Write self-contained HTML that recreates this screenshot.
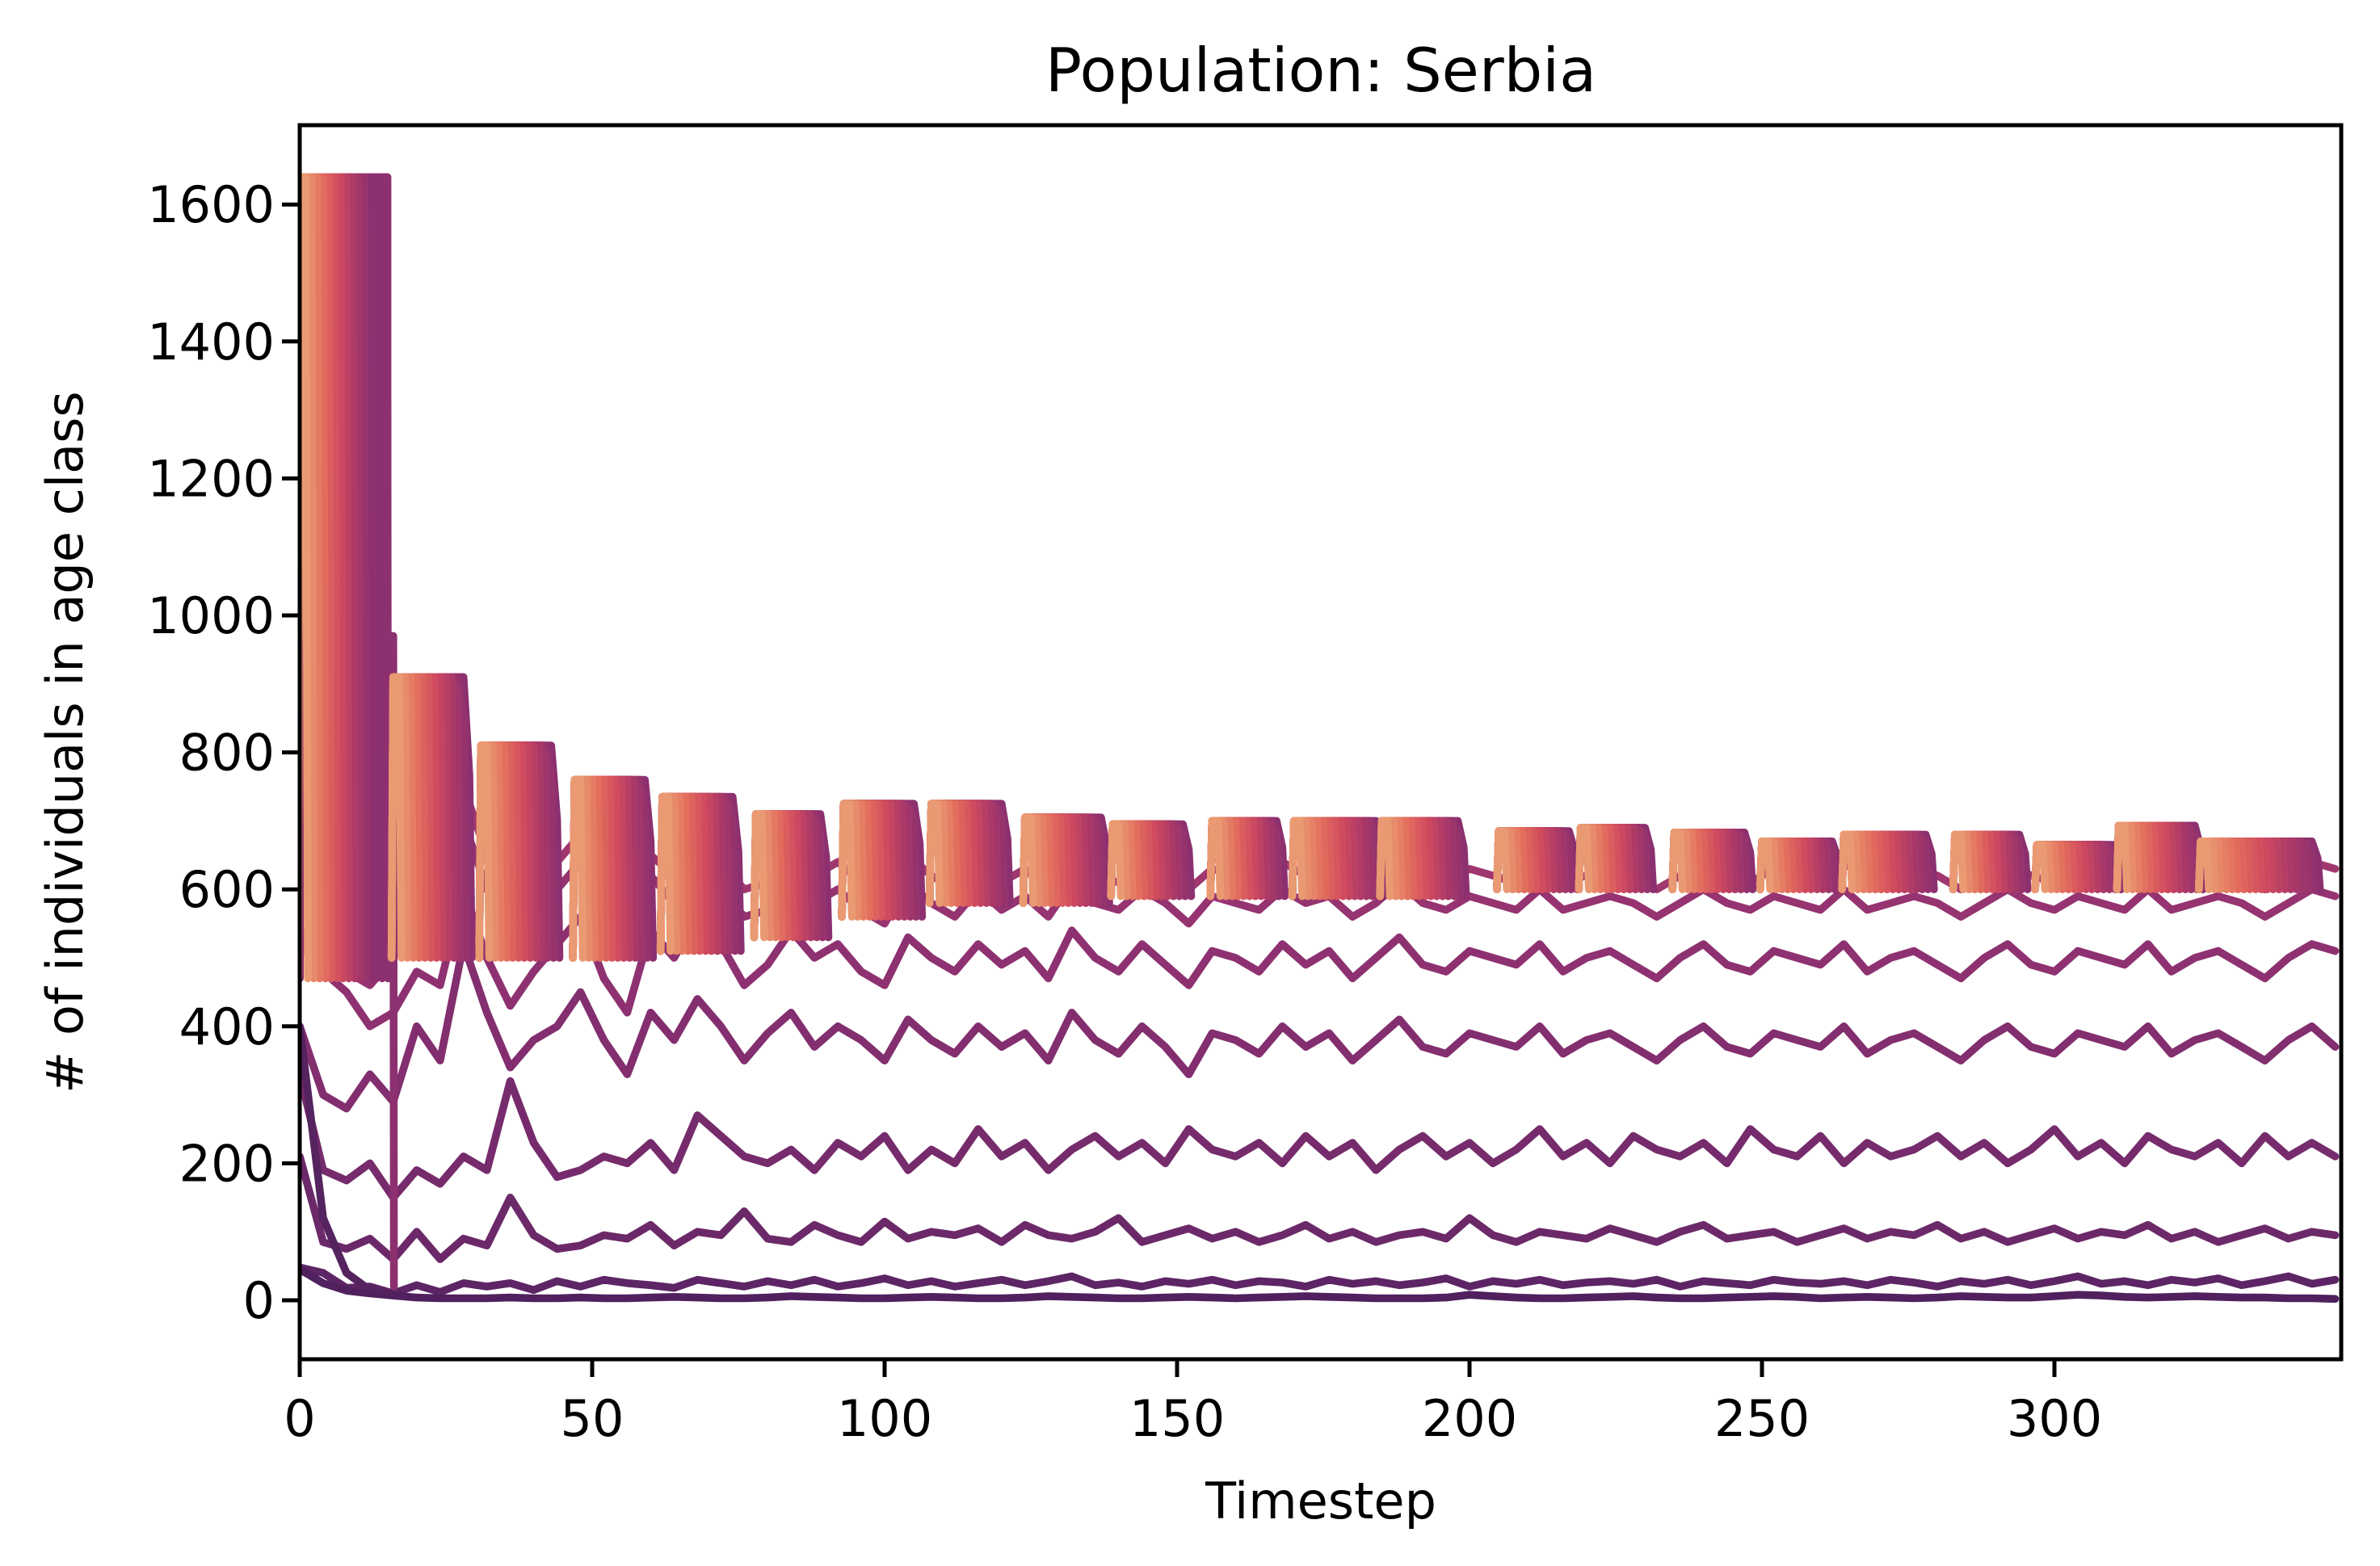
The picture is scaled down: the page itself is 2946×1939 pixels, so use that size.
<!DOCTYPE html>
<html><head><meta charset="utf-8"><style>
html,body{margin:0;padding:0;background:#fff;}
svg{display:block;}
text{font-family:"DejaVu Sans","Liberation Sans",sans-serif;fill:#000;}
</style></head><body>
<svg id="chart" width="2946" height="1939" viewBox="0 0 2946 1939" xmlns="http://www.w3.org/2000/svg">
<defs><clipPath id="plotclip"><rect x="371" y="155" width="2527" height="1528"/></clipPath></defs>
<rect x="0" y="0" width="2946" height="1939" fill="#fff"/>
<g id="data" clip-path="url(#plotclip)"></g>
<g id="axes"></g>
<text x="1635" y="113" font-size="75" text-anchor="middle">Population: Serbia</text>
<text x="1635" y="1880" font-size="62" text-anchor="middle">Timestep</text>
<text transform="translate(102,919) rotate(-90)" font-size="62" text-anchor="middle"># of individuals in age class</text>
</svg>
<script>
// ---- data ----
const STEP = 4;
const xTicks = [0, 50, 100, 150, 200, 250, 300];
const yTicks = [0, 200, 400, 600, 800, 1000, 1200, 1400, 1600];
const blockStart = [0,16,31,47,62,78,93,108,124,139,156,170,185,205,219,235,250,264,283,297,311,325];
const blockWidth = [12,13,13,13,13,12,13,13,14,13,12,15,14,13,12,13,13,15,12,14,14,20];
const blockTop = [1640,910,810,760,735,710,725,725,705,695,700,700,700,685,690,683,670,680,680,665,693,670];
const blockBottom = [470,500,500,500,510,530,560,580,580,590,590,590,590,600,600,600,600,600,600,600,600,600];
const firstBlockTail = [1600,1520,1310,970];
const decayLine = [400,120,40,15,8];
const lineA = [45,25,14,10,7,4,3,3,3,4,3,3,4,3,3,4,5,4,3,3,4,6,5,4,3,3,4,5,4,3,3,4,6,5,4,3,3,4,5,4,3,4,5,6,5,4,3,3,3,4,8,6,4,3,3,4,5,6,4,3,3,4,5,6,5,3,4,5,4,3,4,6,5,4,4,6,8,7,5,4,5,6,5,4,4,3,3,2];
const lineB = [48,40,18,20,10,22,12,25,20,25,15,28,20,30,25,22,18,30,25,20,28,22,30,20,25,32,22,28,20,25,30,22,28,35,22,26,20,28,24,30,22,28,26,20,30,24,28,22,26,32,20,28,24,30,22,26,28,24,30,20,28,25,22,30,26,24,28,22,30,26,20,28,24,30,22,28,35,24,28,22,30,26,32,22,28,35,24,30];
const lineC = [210,85,75,90,60,100,60,90,80,150,95,75,80,95,90,110,80,100,95,130,90,85,110,95,85,115,90,100,95,105,85,110,95,90,100,120,85,95,105,90,100,85,95,110,90,100,85,95,100,90,120,95,85,100,95,90,105,95,85,100,110,90,95,100,85,95,105,90,100,95,110,90,100,85,95,105,90,100,95,110,90,100,85,95,105,90,100,95];
const lineD = [330,190,175,200,150,190,170,210,190,320,230,180,190,210,200,230,190,270,240,210,200,220,190,230,210,240,190,220,200,250,210,230,190,220,240,210,230,200,250,220,210,230,200,240,210,230,190,220,240,210,230,200,220,250,210,230,200,240,220,210,230,200,250,220,210,240,200,230,210,220,240,210,230,200,220,250,210,230,200,240,220,210,230,200,240,210,230,210];
const lineE = [400,300,280,330,290,400,350,520,420,340,380,400,450,380,330,420,380,440,400,350,390,420,370,400,380,350,410,380,360,400,370,390,350,420,380,360,400,370,330,390,380,360,400,370,390,350,380,410,370,360,390,380,370,400,360,380,390,370,350,380,400,370,360,390,380,370,400,360,380,390,370,350,380,400,370,360,390,380,370,400,360,380,390,370,350,380,400,370];
const lineF = [520,480,450,400,420,480,460,600,500,430,480,520,560,470,420,540,500,560,520,460,490,540,500,520,480,460,530,500,480,520,490,510,470,540,500,480,520,490,460,510,500,480,520,490,510,470,500,530,490,480,510,500,490,520,480,500,510,490,470,500,520,490,480,510,500,490,520,480,500,510,490,470,500,520,490,480,510,500,490,520,480,500,510,490,470,500,520,510];
const lineG = [530,500,480,460,500,560,520,700,600,540,560,600,640,560,520,620,580,640,600,560,570,610,580,600,570,550,610,580,560,600,570,590,560,610,580,570,600,580,550,590,580,570,600,580,590,560,580,610,580,570,590,580,570,600,570,580,590,580,560,580,600,580,570,590,580,570,600,570,580,590,580,560,580,600,580,570,590,580,570,600,570,580,590,580,560,580,600,590];
const lineH = [540,520,500,480,520,600,560,750,650,580,600,640,680,600,560,650,620,670,640,600,610,650,620,640,610,600,650,620,600,640,610,630,600,650,620,610,640,620,600,630,620,610,640,620,630,600,620,650,620,610,630,620,610,640,610,620,630,620,600,620,640,620,610,630,620,610,640,610,620,630,620,600,620,640,620,610,630,620,610,640,610,620,630,620,600,620,640,630];

// ---- scales ----
const X0 = 371, X1 = 2898, Y0 = 1683, Y1 = 155;
function X(t){ return X0 + t * 7.24; }
function Y(v){ return 1610 - v * 0.848; }
const NS = 'http://www.w3.org/2000/svg';
const dataG = document.getElementById('data');
const axesG = document.getElementById('axes');
const stops = [[234,154,114],[226,110,94],[209,75,95],[170,57,104],[140,48,112]];
const taper = [0.35, 0.15, 0.05];
function grad(f){
  const p = f * (stops.length - 1); const i = Math.min(Math.floor(p), stops.length - 2); const r = p - i;
  const c = stops[i].map((v, k) => Math.round(v + (stops[i+1][k] - v) * r));
  return 'rgb(' + c.join(',') + ')';
}
function poly(pts, color, name){
  const el = document.createElementNS(NS, 'polyline');
  el.setAttribute('points', pts.map(p => p[0].toFixed(1) + ',' + p[1].toFixed(1)).join(' '));
  el.setAttribute('fill', 'none');
  el.setAttribute('stroke', color);
  el.setAttribute('stroke-width', '9.6');
  el.setAttribute('stroke-linejoin', 'round');
  el.setAttribute('stroke-linecap', 'round');
  
  
  dataG.appendChild(el);
  return el;
}
function series(arr, color, name){
  poly(arr.map((v, i) => [X(i * STEP), Y(v)]), color, name);
}

series(lineH, '#a0376f', 'age-line-h');
series(lineG, '#963371', 'age-line-g');
series(lineF, '#8e3171', 'age-line-f');
series(lineE, '#832e6f', 'age-line-e');
series(lineD, '#762b6c', 'age-line-d');
series(lineC, '#6c2969', 'age-line-c');
series(lineB, '#5d2565', 'age-line-b');
series(decayLine, '#55235f', 'age-line-decay');
series(lineA, '#50215e', 'age-line-a');

for (let b = 0; b < blockStart.length; b++) {
  const s = blockStart[b], n = blockWidth[b], top = blockTop[b], bot = blockBottom[b];
  if (b === 0) {
    for (let k = firstBlockTail.length - 1; k >= 0; k--) {
      const tx = s + n + k;
      const endV = k === firstBlockTail.length - 1 ? 20 : bot;
      poly([[X(s), Y(bot)], [X(s), Y(top)], [X(tx), Y(top)], [X(tx), Y(firstBlockTail[k])], [X(tx + 1), Y(firstBlockTail[k])], [X(tx + 1.1), Y(endV)]], grad(1), 'cohort-tail');
    }
  }
  for (let j = n - 1; j >= 0; j--) {
    const f = n > 1 ? j / (n - 1) : 0;
    const e = s + j + 1;
    const fromEnd = n - 1 - j;
    const tj = (b > 0 && fromEnd < taper.length) ? top - (top - bot) * taper[fromEnd] : top;
    const pts = [[X(s - 0.3), Y(bot)], [X(s), Y(top)]];
    if (tj < top) { pts.push([X(e - 1), Y(top)]); }
    pts.push([X(e), Y(tj)]);
    pts.push([X(e + 0.4), Y(bot)]);
    poly(pts, grad(f), 'cohort-block-line');
  }
}

// ---- axes ----
function line(x1, y1, x2, y2, name){
  const l = document.createElementNS(NS, 'line');
  l.setAttribute('x1', x1); l.setAttribute('y1', y1); l.setAttribute('x2', x2); l.setAttribute('y2', y2);
  l.setAttribute('stroke', '#000'); l.setAttribute('stroke-width', '5');
  
  
  axesG.appendChild(l);
}
function label(x, y, s, anchor, name){
  const t = document.createElementNS(NS, 'text');
  t.setAttribute('x', x); t.setAttribute('y', y); t.setAttribute('font-size', '62'); t.setAttribute('text-anchor', anchor);
  t.textContent = s;
  
  
  axesG.appendChild(t);
}
const frame = document.createElementNS(NS, 'rect');
frame.setAttribute('x', X0); frame.setAttribute('y', Y1); frame.setAttribute('width', X1 - X0); frame.setAttribute('height', Y0 - Y1);
frame.setAttribute('fill', 'none'); frame.setAttribute('stroke', '#000'); frame.setAttribute('stroke-width', '5');


axesG.appendChild(frame);
xTicks.forEach(t => { line(X(t), Y0, X(t), Y0 + 22, 'x-tick'); label(X(t), 1778, String(t), 'middle', 'x-tick-label'); });
yTicks.forEach(v => { line(X0 - 22, Y(v), X0, Y(v), 'y-tick'); label(340, Y(v) + 22, String(v), 'end', 'y-tick-label'); });
</script>
</body></html>
